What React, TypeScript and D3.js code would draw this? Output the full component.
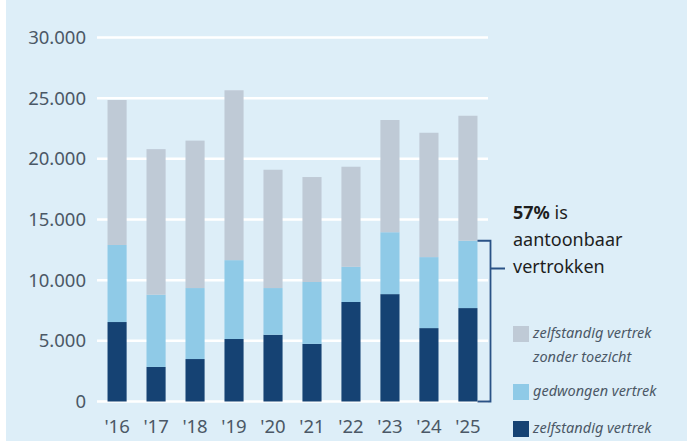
import React from 'react';
import { scaleBand, scaleLinear, stack } from 'd3';

const years = ["'16", "'17", "'18", "'19", "'20", "'21", "'22", "'23", "'24", "'25"];
const zelfstandig = [6550, 2850, 3500, 5150, 5500, 4750, 8200, 8850, 6050, 7700];
const gedwongen = [6350, 5950, 5850, 6500, 3850, 5100, 2900, 5100, 5850, 5550];
const zonderToezicht = [11950, 12000, 12150, 14000, 9750, 8650, 8250, 9250, 10250, 10300];
const yTicks = [0, 5000, 10000, 15000, 20000, 25000, 30000];

const keys = ['zelfstandig', 'gedwongen', 'zonderToezicht'];
const colors: Record<string, string> = {
  zelfstandig: '#154273',
  gedwongen: '#8fcae7',
  zonderToezicht: '#bfcad6',
};

const font = "'Noto Sans', 'Open Sans', sans-serif";

export default function App() {
  const width = 687;
  const height = 441;

  const rows = years.map((year, i) => ({
    year,
    zelfstandig: zelfstandig[i],
    gedwongen: gedwongen[i],
    zonderToezicht: zonderToezicht[i],
  }));
  const series = stack<any>().keys(keys)(rows);

  const x = scaleBand().domain(years).range([97, 488]).paddingInner(0.51).paddingOuter(0.27);
  const y = scaleLinear().domain([0, 30000]).range([401.5, 37.5]);

  // bracket around the last bar's lower two segments
  const last = rows[rows.length - 1];
  const bracketTop = y(last.zelfstandig + last.gedwongen);
  const bracketBottom = y(0);
  const bracketX = 490.5;
  const barRight = (x(last.year) ?? 0) + x.bandwidth();

  const legend = [
    { key: 'zonderToezicht', lines: ['zelfstandig vertrek', 'zonder toezicht'], y: 326 },
    { key: 'gedwongen', lines: ['gedwongen vertrek'], y: 384 },
    { key: 'zelfstandig', lines: ['zelfstandig vertrek'], y: 421 },
  ];

  return (
    <svg width={width} height={height} style={{ position: 'absolute', left: 0, top: 0 }}>
      <rect x={6} y={0} width={width - 6} height={height} fill="#ddeef8" />

      {yTicks.map(t => (
        <g key={t}>
          <line x1={97} x2={488} y1={y(t)} y2={y(t)} stroke="#ffffff" strokeWidth={2.5} />
          <text x={86} y={y(t)} dy="0.35em" textAnchor="end" fontFamily={font} fontSize={18.5}
            fill="#4b5866">
            {t === 0 ? '0' : (t / 1000).toFixed(3)}
          </text>
        </g>
      ))}

      {series.map(s => (
        <g key={s.key} fill={colors[s.key]}>
          {s.map((d, i) => (
            <rect key={i} x={x(years[i])} width={x.bandwidth()} y={y(d[1])}
              height={y(d[0]) - y(d[1])} />
          ))}
        </g>
      ))}

      {years.map(yr => (
        <text key={yr} x={(x(yr) ?? 0) + x.bandwidth() / 2} y={433} textAnchor="middle"
          fontFamily={font} fontSize={18.5} fill="#4b5866">
          {yr}
        </text>
      ))}

      <path
        d={`M${barRight},${bracketTop}H${bracketX}V${bracketBottom}H${barRight}M${bracketX},268.5H505`}
        fill="none" stroke="#2a5286" strokeWidth={1.8} />

      <text fontFamily={font} fontSize={18} fill="#1e1e1e">
        <tspan x={513} y={219}><tspan fontWeight="bold">57%</tspan> is</tspan>
        <tspan x={513} y={246}>aantoonbaar</tspan>
        <tspan x={513} y={273}>vertrokken</tspan>
      </text>

      {legend.map(l => (
        <g key={l.key}>
          <rect x={513} y={l.y} width={16} height={16} fill={colors[l.key]} />
          {l.lines.map((ln, j) => (
            <text key={j} x={533} y={l.y + 12 + j * 24} fontFamily={font} fontSize={14.5}
              fontStyle="italic" fill="#4b5866">
              {ln}
            </text>
          ))}
        </g>
      ))}
    </svg>
  );
}
